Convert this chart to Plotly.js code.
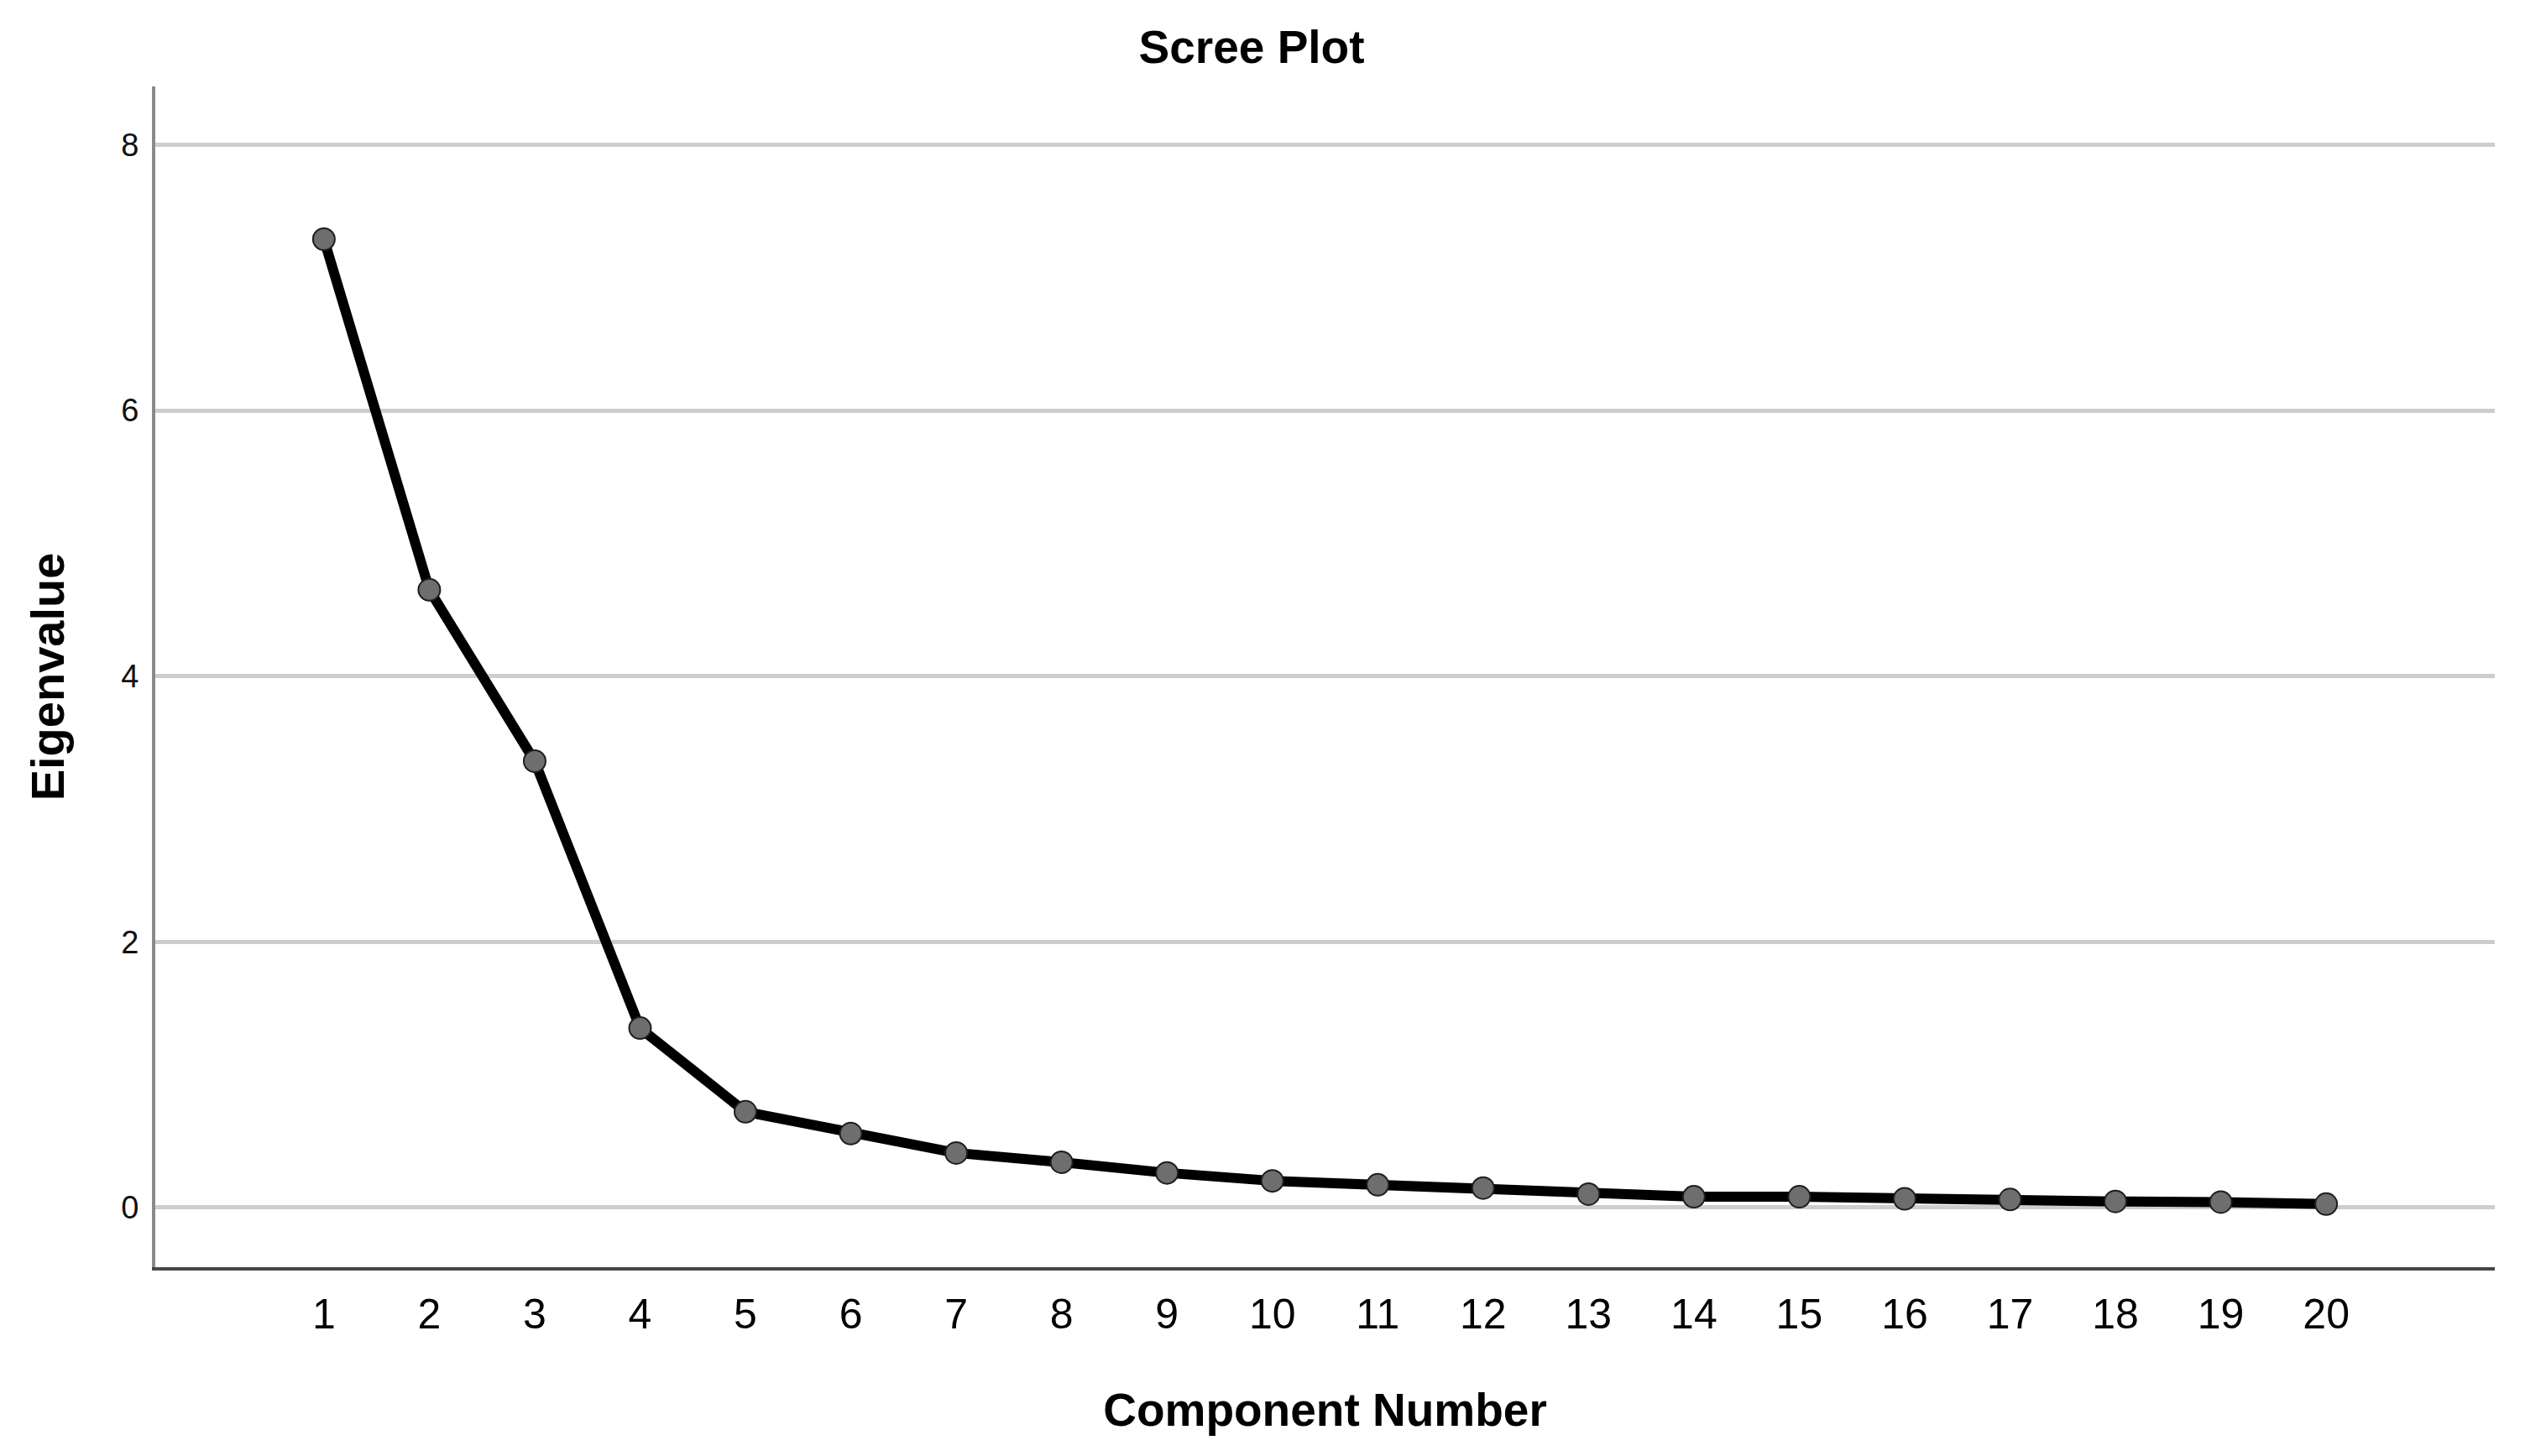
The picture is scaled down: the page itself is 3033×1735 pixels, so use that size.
<!DOCTYPE html>
<html>
<head>
<meta charset="utf-8">
<script src="https://cdn.plot.ly/plotly-3.0.1.min.js"></script>
<style>
  html, body { margin: 0; padding: 0; background: #ffffff; }
  #chart { width: 3033px; height: 1735px; }
</style>
</head>
<body>
<div id="chart"></div>
<script>
// Data
const componentNumbers = [1, 2, 3, 4, 5, 6, 7, 8, 9, 10, 11, 12, 13, 14, 15, 16, 17, 18, 19, 20];
const eigenvalues = [7.29, 4.65, 3.36, 1.35, 0.72, 0.556, 0.41, 0.34, 0.26, 0.20, 0.17, 0.146, 0.10, 0.08, 0.08, 0.065, 0.06, 0.045, 0.04, 0.025];
const yTickValues = [0, 2, 4, 6, 8];
const chartTitle = "Scree Plot";
const xAxisTitle = "Component Number";
const yAxisTitle = "Eigenvalue";

const trace = {
  x: componentNumbers,
  y: eigenvalues,
  type: "scatter",
  mode: "lines+markers",
  line: { color: "#000000", width: 12 },
  marker: { size: 26, color: "#6e6e6e", line: { color: "#1e1e1e", width: 2 } },
  hoverinfo: "x+y",
  showlegend: false
};

const layout = {
  width: 3033,
  height: 1735,
  paper_bgcolor: "#ffffff",
  plot_bgcolor: "#ffffff",
  margin: { l: 185, r: 61, t: 103, b: 225 },
  font: { family: "Liberation Sans, Arial, sans-serif", color: "#000000" },
  title: {
    text: "<b>" + chartTitle + "</b>",
    font: { size: 55, family: "Liberation Sans, Arial, sans-serif", color: "#000000" },
    xref: "container", yref: "container",
    x: 0.4916, xanchor: "center",
    y: 0.968, yanchor: "middle"
  },
  xaxis: {
    range: [-0.6, 21.6],
    tickmode: "array",
    tickvals: componentNumbers,
    ticktext: componentNumbers.map(String),
    tickfont: { size: 50, color: "#000000" },
    ticks: "outside",
    ticklen: 9,
    tickcolor: "rgba(0,0,0,0)",
    showgrid: false,
    zeroline: false,
    showline: true,
    linecolor: "#474747",
    linewidth: 4,
    title: {
      text: "<b>" + xAxisTitle + "</b>",
      font: { size: 55, color: "#000000" },
      standoff: 68
    }
  },
  yaxis: {
    range: [-0.45, 8.44],
    tickmode: "array",
    tickvals: yTickValues,
    ticktext: yTickValues.map(String),
    tickfont: { size: 38, color: "#111111" },
    ticks: "outside",
    ticklen: 8,
    tickcolor: "rgba(0,0,0,0)",
    showgrid: true,
    gridcolor: "#cdcdcd",
    gridwidth: 5,
    zeroline: false,
    showline: true,
    linecolor: "#8a8a8a",
    linewidth: 4,
    title: {
      text: "<b>" + yAxisTitle + "</b>",
      font: { size: 56, color: "#000000" },
      standoff: 51
    }
  }
};

Plotly.newPlot("chart", [trace], layout, { displayModeBar: false, staticPlot: true });
</script>
</body>
</html>
